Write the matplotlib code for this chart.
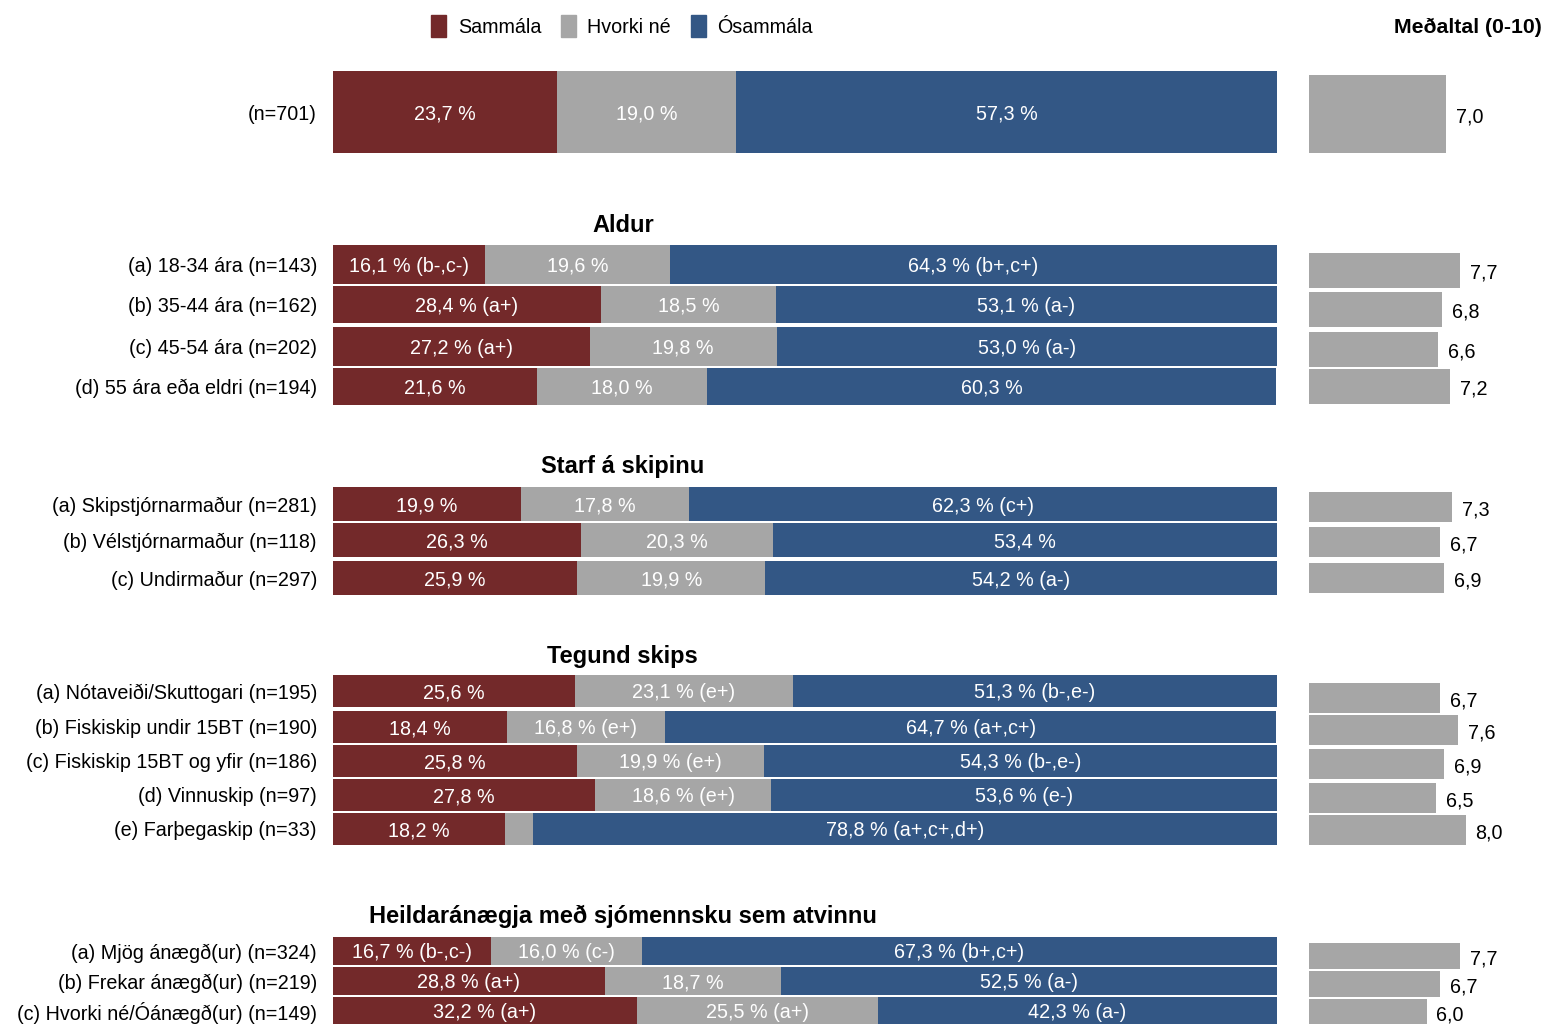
import numpy as np
import matplotlib
matplotlib.use("Agg")
import matplotlib.pyplot as plt
from matplotlib.patches import Patch

plt.rcParams["font.family"] = ["Liberation Sans", "DejaVu Sans"]

RED = "#73292a"
GRAY = "#a6a6a6"
BLUE = "#335785"

# ---- data ----
row_labels = [
    "(n=701)",
    "(a) 18-34 ára (n=143)", "(b) 35-44 ára (n=162)",
    "(c) 45-54 ára (n=202)", "(d) 55 ára eða eldri (n=194)",
    "(a) Skipstjórnarmaður (n=281)", "(b) Vélstjórnarmaður (n=118)",
    "(c) Undirmaður (n=297)",
    "(a) Nótaveiði/Skuttogari (n=195)", "(b) Fiskiskip undir 15BT (n=190)",
    "(c) Fiskiskip 15BT og yfir (n=186)", "(d) Vinnuskip (n=97)",
    "(e) Farþegaskip (n=33)",
    "(a) Mjög ánægð(ur) (n=324)", "(b) Frekar ánægð(ur) (n=219)",
    "(c) Hvorki né/Óánægð(ur) (n=149)",
]
sammala = [23.7, 16.1, 28.4, 27.2, 21.6, 19.9, 26.3, 25.9,
           25.6, 18.4, 25.8, 27.8, 18.2, 16.7, 28.8, 32.2]
hvorki = [19.0, 19.6, 18.5, 19.8, 18.0, 17.8, 20.3, 19.9,
          23.1, 16.8, 19.9, 18.6, 3.0, 16.0, 18.7, 25.5]
osammala = [57.3, 64.3, 53.1, 53.0, 60.3, 62.3, 53.4, 54.2,
            51.3, 64.7, 54.3, 53.6, 78.8, 67.3, 52.5, 42.3]
sammala_sig = ["", "(b-,c-)", "(a+)", "(a+)", "", "", "", "",
               "", "", "", "", "", "(b-,c-)", "(a+)", "(a+)"]
hvorki_sig = ["", "", "", "", "", "", "", "",
              "(e+)", "(e+)", "(e+)", "(e+)", "", "(c-)", "", "(a+)"]
osammala_sig = ["", "(b+,c+)", "(a-)", "(a-)", "", "(c+)", "", "(a-)",
                "(b-,e-)", "(a+,c+)", "(b-,e-)", "(e-)", "(a+,c+,d+)",
                "(b+,c+)", "(a-)", "(a-)"]
medaltal = [7.0, 7.7, 6.8, 6.6, 7.2, 7.3, 6.7, 6.9,
            6.7, 7.6, 6.9, 6.5, 8.0, 7.7, 6.7, 6.0]
headings = ["Aldur", "Starf á skipinu", "Tegund skips",
            "Heildaránægja með sjómennsku sem atvinnu"]

# ---- layout (pixel rows, top-down) ----
W, H = 1546, 1024
row_y = [112, 264.5, 304.5, 346.5, 386.5, 504, 540, 578,
         691, 727, 761, 795, 829, 951, 981, 1011]
row_h = [82, 39, 37, 39, 37, 34, 34, 34,
         32, 32, 32, 32, 32, 28, 28, 28]
mean_y = [114, 270, 309, 349, 386, 507, 542, 578,
          698, 730, 764, 798, 830, 956, 984, 1012]
mean_h = [78, 35, 35, 35, 35, 30, 30, 30,
          30, 30, 30, 30, 30, 26, 26, 26]
heading_y = [224, 464, 654, 914]
FS = 14.2


def fmt(v):
    return f"{v:.1f}".replace(".", ",")


fig = plt.figure(figsize=(W / 100, H / 100), dpi=100)

ax = fig.add_axes([333 / W, 0, 944 / W, 1])
ax.set_xlim(0, 100)
ax.set_ylim(H, 0)

left = np.zeros(len(row_labels))
for vals, sigs, color in [(sammala, sammala_sig, RED),
                          (hvorki, hvorki_sig, GRAY),
                          (osammala, osammala_sig, BLUE)]:
    vals = np.array(vals)
    ax.barh(row_y, vals, height=row_h, left=left, color=color,
            edgecolor="none")
    for y, l, v, s in zip(row_y, left, vals, sigs):
        if v < 5:
            continue
        txt = f"{fmt(v)} %" + (f" {s}" if s else "")
        ax.text(l + v / 2, y + 2, txt, ha="center", va="center",
                color="white", fontsize=FS)
    left += vals

# row labels, right aligned left of the bars
for y, lab in zip(row_y, row_labels):
    ax.text(-1.7, y + 2, lab, ha="right", va="center", fontsize=FS)

ax.set_xticks([])
ax.set_yticks([])
for sp in ax.spines.values():
    sp.set_visible(False)

for t, y in zip(headings, heading_y):
    ax.text(30.7, y + 2, t, ha="center", va="center", fontsize=17,
            fontweight="bold")

# right panel: means
ax2 = fig.add_axes([1309 / W, 0, 196 / W, 1])
ax2.set_xlim(0, 10)
ax2.set_ylim(H, 0)
ax2.barh(mean_y, medaltal, height=mean_h, color=GRAY, edgecolor="none")
for y, v in zip(mean_y, medaltal):
    ax2.text(v + 0.5, y + 3, fmt(v), ha="left", va="center", fontsize=FS)
ax2.axis("off")

fig.text(1542 / W, 1 - 27 / H, "Meðaltal (0-10)", ha="right", va="center",
         fontsize=15.3, fontweight="bold")

handles = [Patch(color=RED, label="Sammála"),
           Patch(color=GRAY, label="Hvorki né"),
           Patch(color=BLUE, label="Ósammála")]
fig.legend(handles=handles, loc="center", bbox_to_anchor=(622 / W, 1 - 26 / H),
           ncol=3, frameon=False, fontsize=FS, handlelength=0.75,
           handleheight=1.3, handletextpad=0.6, columnspacing=1.0)

fig.savefig("out.png", dpi=100)
